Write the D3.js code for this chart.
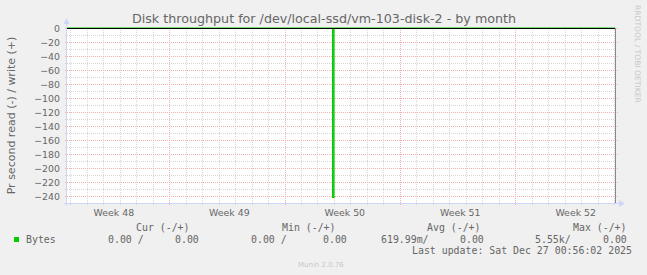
<!DOCTYPE html>
<html>
<head>
<meta charset="utf-8">
<script src="https://cdn.jsdelivr.net/npm/d3@7"></script>
<style>
  html, body { margin: 0; padding: 0; background: #f0f0f0; }
  svg { display: block; }
  text { fill: #666; }
</style>
</head>
<body>
<svg class="chart" width="647" height="275"></svg>
<script>
// time window of the month graph (UTC)
var timeDomain = [new Date(Date.UTC(2025, 10, 23, 19, 30)), new Date(Date.UTC(2025, 11, 27, 0, 56))];
var yDomain = [-250, 0];

// read (-) samples, step shaped
var readTimes = [
  new Date(Date.UTC(2025, 10, 23, 19, 30)),
  new Date(Date.UTC(2025, 11, 9, 22, 0)),
  new Date(Date.UTC(2025, 11, 10, 0, 0)),
  new Date(Date.UTC(2025, 11, 27, 0, 56))
];
var readValues = [0, -242, 0, 0];

var weekLabels = ['Week 48', 'Week 49', 'Week 50', 'Week 51', 'Week 52'];
var weekLabelTimes = [
  new Date(Date.UTC(2025, 10, 26, 15)),
  new Date(Date.UTC(2025, 11, 3, 15)),
  new Date(Date.UTC(2025, 11, 10, 15)),
  new Date(Date.UTC(2025, 11, 17, 15)),
  new Date(Date.UTC(2025, 11, 24, 15))
];
var weekStarts = [
  new Date(Date.UTC(2025, 10, 30)),
  new Date(Date.UTC(2025, 11, 7)),
  new Date(Date.UTC(2025, 11, 14)),
  new Date(Date.UTC(2025, 11, 21))
];

var legendHeaders = ['Cur (-/+)', 'Min (-/+)', 'Avg (-/+)', 'Max (-/+)'];
var legendRead = ['0.00 /', '0.00 /', '619.99m/', '5.55k/'];
var legendWrite = ['0.00', '0.00', '0.00', '0.00'];

(function() {
  var svg = d3.select('.chart');
  var left = 67, right = 615, top = 28, bottom = 203;

  var x = d3.scaleUtc().domain(timeDomain).range([left, right]);
  var y = d3.scaleLinear().domain(yDomain).range([bottom, top]);

  svg.append('rect')
    .attr('x', left).attr('y', top)
    .attr('width', right - left).attr('height', bottom - top)
    .attr('fill', '#fff');

  // minor grid
  var days = d3.utcDay.range(d3.utcDay.ceil(timeDomain[0]), timeDomain[1]);
  svg.append('g')
    .selectAll('line')
    .data(days)
    .join('line')
      .attr('x1', function(d) { return Math.round(x(d)) + 0.5; })
      .attr('x2', function(d) { return Math.round(x(d)) + 0.5; })
      .attr('y1', top).attr('y2', bottom + 2)
      .attr('stroke', '#d6d6d6')
      .attr('stroke-dasharray', '1,1');

  svg.append('g')
    .selectAll('line')
    .data(d3.range(-250, 1, 10))
    .join('line')
      .attr('x1', left - 2).attr('x2', right + 2)
      .attr('y1', function(d) { return Math.round(y(d)) + 0.5; })
      .attr('y2', function(d) { return Math.round(y(d)) + 0.5; })
      .attr('stroke', '#d6d6d6')
      .attr('stroke-dasharray', '1,1');

  // major grid
  svg.append('g')
    .selectAll('line')
    .data(weekStarts)
    .join('line')
      .attr('x1', function(d) { return Math.round(x(d)) + 0.5; })
      .attr('x2', function(d) { return Math.round(x(d)) + 0.5; })
      .attr('y1', top).attr('y2', bottom + 3)
      .attr('stroke', '#f0b0b0')
      .attr('stroke-dasharray', '1,1');

  var yTicks = d3.range(-240, 1, 20);
  svg.append('g')
    .selectAll('line')
    .data(yTicks)
    .join('line')
      .attr('x1', left - 2).attr('x2', right + 3)
      .attr('y1', function(d) { return Math.round(y(d)) + 0.5; })
      .attr('y2', function(d) { return Math.round(y(d)) + 0.5; })
      .attr('stroke', '#f0b0b0')
      .attr('stroke-dasharray', '1,1');

  // series
  var pts = readTimes.map(function(t, i) { return [t, readValues[i]]; });
  var line = d3.line()
    .x(function(d) { return x(d[0]); })
    .y(function(d) { return y(d[1]); })
    .curve(d3.curveStepAfter);
  svg.append('path')
    .datum(pts)
    .attr('d', line)
    .attr('fill', '#7fe57f')
    .attr('stroke', '#00cc00')
    .attr('stroke-width', 1.2);

  // zero rule
  svg.append('line')
    .attr('x1', left).attr('x2', right)
    .attr('y1', y(0) + 0.5).attr('y2', y(0) + 0.5)
    .attr('stroke', '#000');

  // right edge
  svg.append('line')
    .attr('x1', right + 0.5).attr('x2', right + 0.5)
    .attr('y1', top).attr('y2', bottom)
    .attr('stroke', '#888');

  // axes lines and arrows
  svg.append('line')
    .attr('x1', left - 0.5).attr('x2', left - 0.5)
    .attr('y1', top - 4).attr('y2', bottom + 3)
    .attr('stroke', '#cfd6f8');
  svg.append('line')
    .attr('x1', left - 3).attr('x2', right + 4)
    .attr('y1', bottom + 0.5).attr('y2', bottom + 0.5)
    .attr('stroke', '#cfd6f8');
  svg.append('path')
    .attr('d', 'M' + (left - 3.5) + ',' + (top - 4) + 'L' + (left - 0.5) + ',' + (top - 10) + 'L' + (left + 2.5) + ',' + (top - 4) + 'Z')
    .attr('fill', '#cfd6f8');
  svg.append('path')
    .attr('d', 'M' + (right + 4) + ',' + (bottom - 3) + 'L' + (right + 10) + ',' + (bottom + 0.5) + 'L' + (right + 4) + ',' + (bottom + 4) + 'Z')
    .attr('fill', '#cfd6f8');

  // y axis labels
  var yAxis = d3.axisLeft(y).tickValues(yTicks).tickSize(0).tickPadding(0);
  var gy = svg.append('g')
    .attr('transform', 'translate(' + (left - 7) + ',0)')
    .call(yAxis);
  gy.select('.domain').remove();
  gy.selectAll('text')
    .attr('font-family', 'DejaVu Sans')
    .attr('font-size', 9.4)
    .attr('fill', '#666');

  // x axis labels
  var xAxis = d3.axisBottom(x)
    .tickValues(weekLabelTimes)
    .tickFormat(function(d, i) { return weekLabels[i]; })
    .tickSize(0).tickPadding(0);
  var gx = svg.append('g')
    .attr('transform', 'translate(0,' + (bottom + 6) + ')')
    .call(xAxis);
  gx.select('.domain').remove();
  gx.selectAll('text')
    .attr('font-family', 'DejaVu Sans')
    .attr('font-size', 9.4)
    .attr('fill', '#666');

  // title
  svg.append('text')
    .attr('x', 324).attr('y', 23)
    .attr('text-anchor', 'middle')
    .attr('font-family', 'DejaVu Sans')
    .attr('font-size', 12.7)
    .text('Disk throughput for /dev/local-ssd/vm-103-disk-2 - by month');

  svg.append('text')
    .attr('transform', 'translate(15,' + ((top + bottom) / 2) + ') rotate(-90)')
    .attr('text-anchor', 'middle')
    .attr('font-family', 'DejaVu Sans')
    .attr('font-size', 11)
    .text('Pr second read (-) / write (+)');

  svg.append('text')
    .attr('transform', 'translate(635,5) rotate(90)')
    .attr('font-family', 'DejaVu Sans')
    .attr('font-size', 7.6)
    .style('fill', '#c8c8c8')
    .text('RRDTOOL / TOBI OETIKER');

  // legend
  var mono = 'DejaVu Sans Mono';
  var headerX = [136, 282, 427, 573];
  var readX = [108, 251, 381, 535];
  var writeX = [175, 323, 460, 603];

  svg.append('g').selectAll('text')
    .data(legendHeaders)
    .join('text')
      .attr('x', function(d, i) { return headerX[i]; })
      .attr('y', 231)
      .attr('font-family', mono).attr('font-size', 9.9)
      .text(function(d) { return d; });

  svg.append('rect')
    .attr('x', 14).attr('y', 237)
    .attr('width', 5).attr('height', 5)
    .attr('fill', '#00cc00');
  svg.append('text')
    .attr('x', 26).attr('y', 243)
    .attr('font-family', mono).attr('font-size', 9.9)
    .text('Bytes');

  svg.append('g').selectAll('text')
    .data(legendRead)
    .join('text')
      .attr('x', function(d, i) { return readX[i]; })
      .attr('y', 243)
      .attr('font-family', mono).attr('font-size', 9.9)
      .text(function(d) { return d; });

  svg.append('g').selectAll('text')
    .data(legendWrite)
    .join('text')
      .attr('x', function(d, i) { return writeX[i]; })
      .attr('y', 243)
      .attr('font-family', mono).attr('font-size', 9.9)
      .text(function(d) { return d; });

  svg.append('text')
    .attr('x', 412).attr('y', 254)
    .attr('font-family', mono).attr('font-size', 9.9)
    .text('Last update: Sat Dec 27 00:56:02 2025');

  svg.append('text')
    .attr('x', 298).attr('y', 267)
    .attr('font-family', 'DejaVu Sans')
    .attr('font-size', 7)
    .style('fill', '#c8c8c8')
    .text('Munin 2.0.76');
})();
</script>
</body>
</html>
